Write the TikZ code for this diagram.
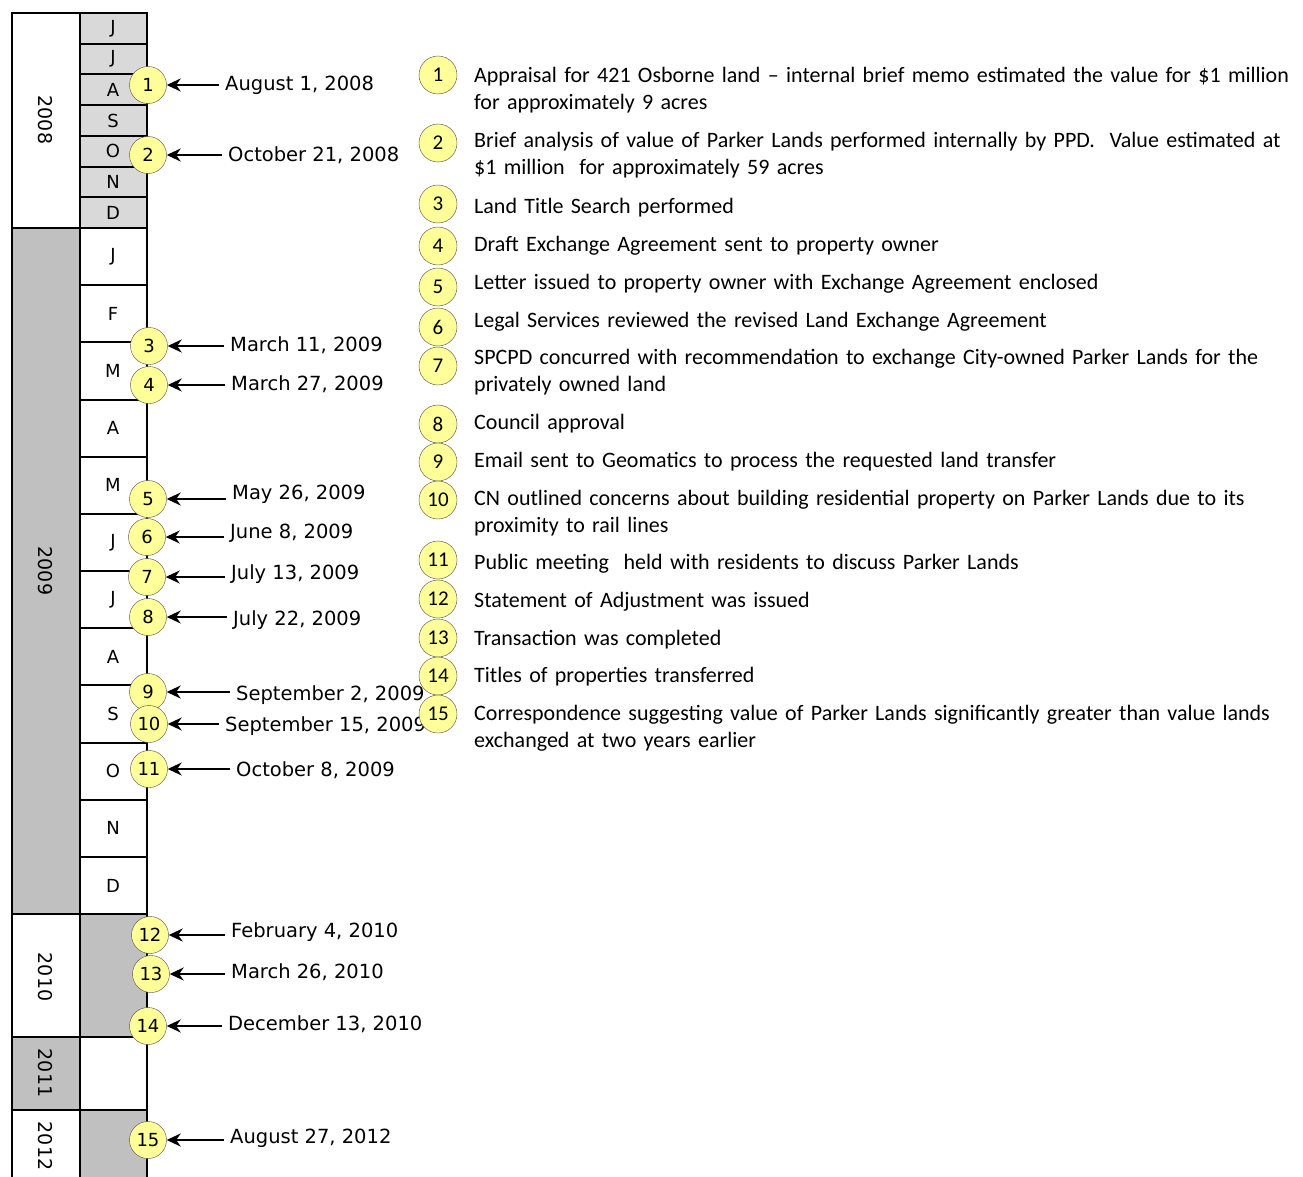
\documentclass[tikz,border=0pt]{standalone}
\usepackage{fontspec}
\setmainfont{Carlito}
\newfontfamily\verd{DejaVu Sans}
\usetikzlibrary{arrows.meta}
\definecolor{yearGray}{HTML}{C0C0C0}
\definecolor{monthGray}{HTML}{D9D9D9}
\definecolor{dotYellow}{HTML}{FFFF99}
\tikzset{
  cell/.style={draw=black, line width=2pt},
  monthlbl/.style={font=\verd\fontsize{18}{18}\selectfont},
  yearlbl/.style={rotate=-90, font=\verd\fontsize{19}{19}\selectfont},
  evtdot/.style={circle, draw=black!70, fill=dotYellow, minimum size=37pt, inner sep=0pt, font=\verd\fontsize{18}{18}\selectfont},
  legdot/.style={circle, draw=black!70, fill=dotYellow, minimum size=38pt, inner sep=0pt, font=\fontsize{21}{21}\selectfont},
  datelbl/.style={anchor=west, inner sep=0pt, font=\verd\fontsize{19.5}{19.5}\selectfont},
  desc/.style={anchor=base west, inner sep=0pt, text width=840pt, align=left, font=\fontsize{22}{27}\selectfont},
  pointer/.style={-{Stealth[length=14pt,width=13pt]}, line width=2pt, shorten <=6pt}
}
\begin{document}
\begin{tikzpicture}[x=1pt,y=-1pt]
    \clip (0,0) rectangle (1303,1177);
    \fill[white] (0,0) rectangle (1303,1177);

    % 2008
    \filldraw[cell, fill=white] (12,13) rectangle (80,228);
    \node[yearlbl] (y2008) at (45,120) {2008};
    \foreach \m [count=\i from 0] in {J,J,A,S,O,N,D} {
        \filldraw[cell, fill=monthGray] (80,13+\i*30.71) rectangle (147,43.71+\i*30.71);
        \node[monthlbl] (m08-\i) at (113,28.4+\i*30.71) {\m};
    }

    % 2009
    \filldraw[cell, fill=yearGray] (12,228) rectangle (80,914);
    \node[yearlbl] (y2009) at (45,571) {2009};
    \foreach \m [count=\i from 0] in {J,F,M,A,M,J,J,A,S,O,N,D} {
        \filldraw[cell, fill=white] (80,228+\i*57.17) rectangle (147,285.17+\i*57.17);
        \node[monthlbl] (m09-\i) at (113,256.6+\i*57.17) {\m};
    }

    % 2010 - 2012
    \filldraw[cell, fill=white] (12,914) rectangle (80,1037);
    \filldraw[cell, fill=yearGray] (80,914) rectangle (147,1037);
    \filldraw[cell, fill=yearGray] (12,1037) rectangle (80,1110);
    \filldraw[cell, fill=white] (80,1037) rectangle (147,1110);
    \filldraw[cell, fill=white] (12,1110) rectangle (80,1200);
    \filldraw[cell, fill=yearGray] (80,1110) rectangle (147,1200);
    \node[yearlbl] (y2010) at (45,977) {2010};
    \node[yearlbl] (y2011) at (45,1073) {2011};
    \node[yearlbl] (y2012) at (45,1146) {2012};

    % events on the timeline
    \foreach \n/\cx/\cy/\dx/\dy/\d in {
        1/148/85/225/85/{August 1, 2008},
        2/148/155/228/155/{October 21, 2008},
        3/149/346/230/345/{March 11, 2009},
        4/149/385/231/384/{March 27, 2009},
        5/148/499/232/494/{May 26, 2009},
        6/147/537/230/533/{June 8, 2009},
        7/147/577/231/574/{July 13, 2009},
        8/148/617/233/620/{July 22, 2009},
        9/148/692/236/695/{September 2, 2009},
        10/149/724/225/726/{September 15, 2009},
        11/149/769/236/770/{October 8, 2009},
        12/150/935/231/932/{February 4, 2010},
        13/151/974/231/972/{March 26, 2010},
        14/148/1026/228/1024/{December 13, 2010},
        15/148/1140/230/1138/{August 27, 2012}} {
        \node[evtdot] (e\n) at (\cx,\cy) {\n};
        \node[datelbl] (d\n) at (\dx,\dy) {\d};
        \draw[pointer] (d\n.west |- e\n) -- (e\n);
    }

    % legend
    \foreach \n/\cy/\ty/\t in {
        1/75/77/{Appraisal for 421 Osborne land -- internal brief memo estimated the value for \$1 million\\for approximately 9 acres},
        2/143/142/{Brief analysis of value of Parker Lands performed internally by PPD.\ \ Value estimated at\\\$1 million\ \ for approximately 59 acres},
        3/204/207/{Land Title Search performed},
        4/246/245/{Draft Exchange Agreement sent to property owner},
        5/287/283/{Letter issued to property owner with Exchange Agreement enclosed},
        6/327/321/{Legal Services reviewed the revised Land Exchange Agreement},
        7/366/358/{SPCPD concurred with recommendation to exchange City-owned Parker Lands for the\\privately owned land},
        8/424/423/{Council approval},
        9/462/461/{Email sent to Geomatics to process the requested land transfer},
        10/500/499/{CN outlined concerns about building residential property on Parker Lands due to its\\proximity to rail lines},
        11/560/563/{Public meeting\ \ held with residents to discuss Parker Lands},
        12/599/601/{Statement of Adjustment was issued},
        13/638/639/{Transaction was completed},
        14/676/676/{Titles of properties transferred},
        15/714/714/{Correspondence suggesting value of Parker Lands significantly greater than value lands\\exchanged at two years earlier}} {
        \node[legdot] (l\n) at (438,\cy) {\n};
        \node[desc] (t\n) at (474,\ty+6) {\t};
    }
\end{tikzpicture}
\end{document}
